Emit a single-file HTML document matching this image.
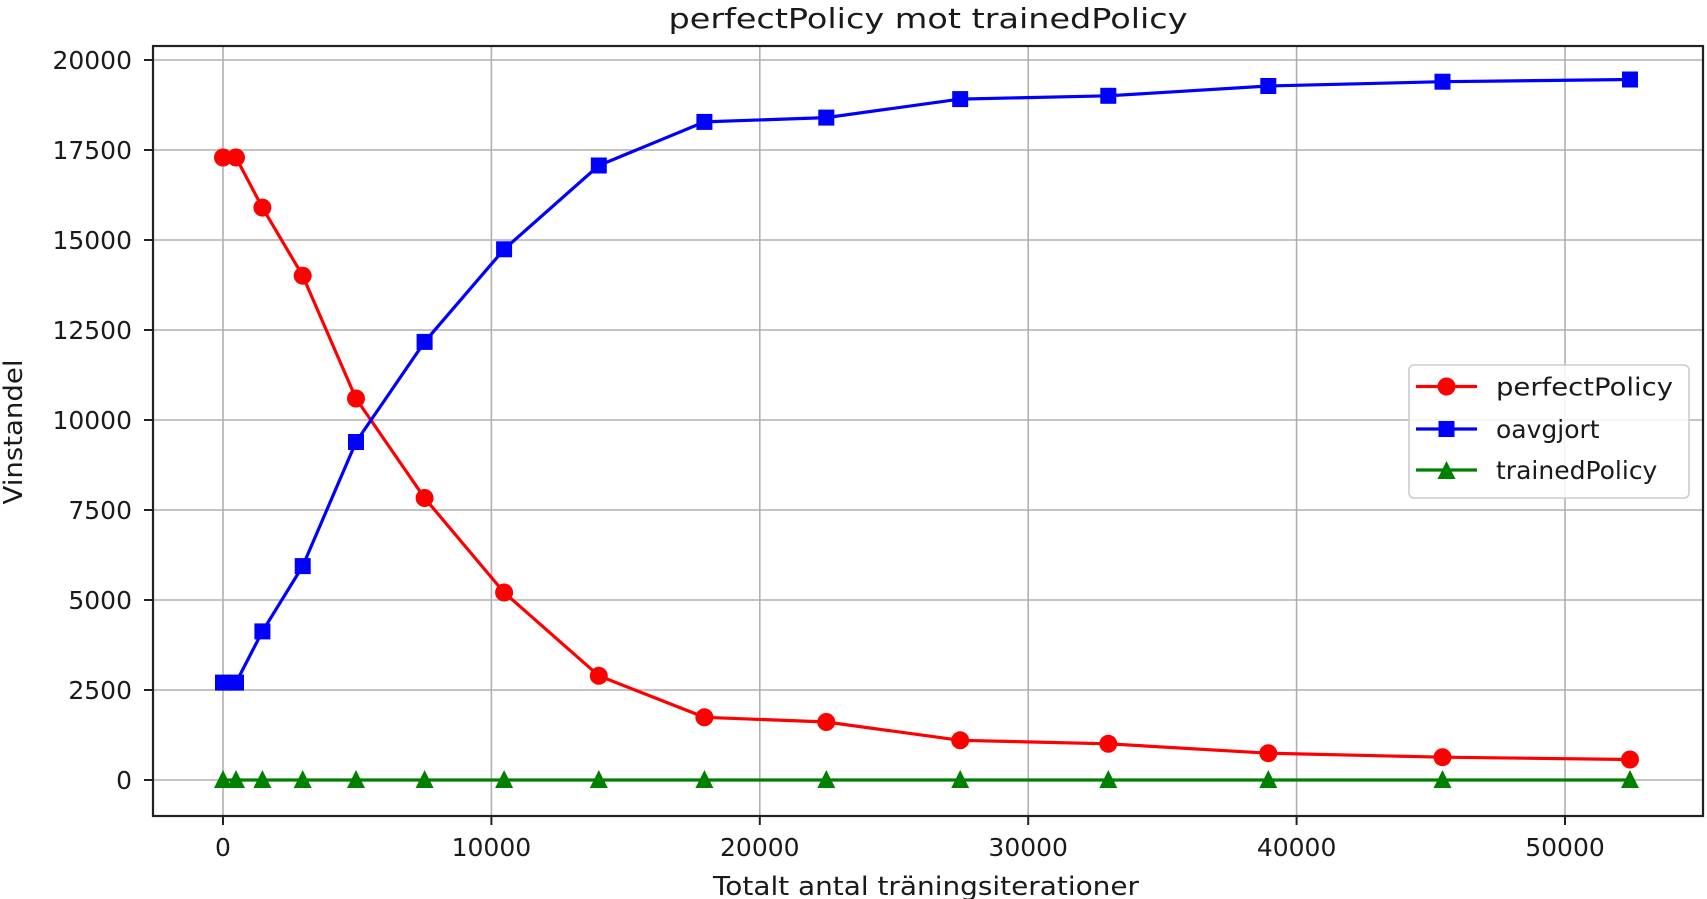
<!DOCTYPE html>
<html><head><meta charset="utf-8"><style>html,body{margin:0;padding:0;background:#fff}svg{display:block}text{font-family:"DejaVu Sans","Liberation Sans",sans-serif;fill:#1a1a1a}</style></head>
<body>
<svg width="1707" height="899" viewBox="0 0 1707 899" xmlns="http://www.w3.org/2000/svg">
<g stroke="#b0b0b0" stroke-width="1.6">
<line x1="223" y1="46" x2="223" y2="816"/><line x1="491.4" y1="46" x2="491.4" y2="816"/><line x1="759.8" y1="46" x2="759.8" y2="816"/><line x1="1028.2" y1="46" x2="1028.2" y2="816"/><line x1="1296.6" y1="46" x2="1296.6" y2="816"/><line x1="1565" y1="46" x2="1565" y2="816"/>
<line x1="153" y1="780" x2="1703" y2="780"/><line x1="153" y1="690" x2="1703" y2="690"/><line x1="153" y1="600" x2="1703" y2="600"/><line x1="153" y1="510" x2="1703" y2="510"/><line x1="153" y1="420" x2="1703" y2="420"/><line x1="153" y1="330" x2="1703" y2="330"/><line x1="153" y1="240" x2="1703" y2="240"/><line x1="153" y1="150" x2="1703" y2="150"/><line x1="153" y1="60" x2="1703" y2="60"/>
</g>
<polyline fill="none" stroke="#ff0000" stroke-width="3.2" points="223,157.5 236,157.5 262.4,207.6 302.7,275.7 356,398.5 424.6,498 504.1,592.5 598.8,675.8 704.4,717.3 826.3,722 960.2,740.3 1108.3,743.8 1268.3,753.2 1442.5,757.2 1630,759.5"/>
<g fill="#ff0000"><circle cx="223" cy="157.5" r="9"/><circle cx="236" cy="157.5" r="9"/><circle cx="262.4" cy="207.6" r="9"/><circle cx="302.7" cy="275.7" r="9"/><circle cx="356" cy="398.5" r="9"/><circle cx="424.6" cy="498" r="9"/><circle cx="504.1" cy="592.5" r="9"/><circle cx="598.8" cy="675.8" r="9"/><circle cx="704.4" cy="717.3" r="9"/><circle cx="826.3" cy="722" r="9"/><circle cx="960.2" cy="740.3" r="9"/><circle cx="1108.3" cy="743.8" r="9"/><circle cx="1268.3" cy="753.2" r="9"/><circle cx="1442.5" cy="757.2" r="9"/><circle cx="1630" cy="759.5" r="9"/></g>
<polyline fill="none" stroke="#0000ff" stroke-width="3.2" points="223,682.6 236,682.6 262.4,631.4 302.7,566.1 356,442 424.6,341.9 504.1,249.3 598.8,165.5 704.4,121.9 826.3,117.6 960.2,99.1 1108.3,95.8 1268.3,86 1442.5,81.7 1630,79.5"/>
<g fill="#0000ff"><rect x="215" y="674.6" width="16" height="16"/><rect x="228" y="674.6" width="16" height="16"/><rect x="254.4" y="623.4" width="16" height="16"/><rect x="294.7" y="558.1" width="16" height="16"/><rect x="348" y="434" width="16" height="16"/><rect x="416.6" y="333.9" width="16" height="16"/><rect x="496.1" y="241.3" width="16" height="16"/><rect x="590.8" y="157.5" width="16" height="16"/><rect x="696.4" y="113.9" width="16" height="16"/><rect x="818.3" y="109.6" width="16" height="16"/><rect x="952.2" y="91.1" width="16" height="16"/><rect x="1100.3" y="87.8" width="16" height="16"/><rect x="1260.3" y="78" width="16" height="16"/><rect x="1434.5" y="73.7" width="16" height="16"/><rect x="1622" y="71.5" width="16" height="16"/></g>
<line x1="223" y1="780" x2="1630" y2="780" stroke="#008000" stroke-width="3.2"/>
<g fill="#008000">
<polygon points="223,770 232,788 214,788"/><polygon points="236,770 245,788 227,788"/><polygon points="262.4,770 271.4,788 253.4,788"/><polygon points="302.7,770 311.7,788 293.7,788"/><polygon points="356,770 365,788 347,788"/><polygon points="424.6,770 433.6,788 415.6,788"/><polygon points="504.1,770 513.1,788 495.1,788"/><polygon points="598.8,770 607.8,788 589.8,788"/><polygon points="704.4,770 713.4,788 695.4,788"/><polygon points="826.3,770 835.3,788 817.3,788"/><polygon points="960.2,770 969.2,788 951.2,788"/><polygon points="1108.3,770 1117.3,788 1099.3,788"/><polygon points="1268.3,770 1277.3,788 1259.3,788"/><polygon points="1442.5,770 1451.5,788 1433.5,788"/><polygon points="1630,770 1639,788 1621,788"/>
</g>
<rect x="153" y="46" width="1550" height="770" fill="none" stroke="#222" stroke-width="2.2"/>
<g stroke="#222" stroke-width="2">
<line x1="223" y1="816" x2="223" y2="825"/><line x1="491.4" y1="816" x2="491.4" y2="825"/><line x1="759.8" y1="816" x2="759.8" y2="825"/><line x1="1028.2" y1="816" x2="1028.2" y2="825"/><line x1="1296.6" y1="816" x2="1296.6" y2="825"/><line x1="1565" y1="816" x2="1565" y2="825"/>
<line x1="144" y1="780" x2="153" y2="780"/><line x1="144" y1="690" x2="153" y2="690"/><line x1="144" y1="600" x2="153" y2="600"/><line x1="144" y1="510" x2="153" y2="510"/><line x1="144" y1="420" x2="153" y2="420"/><line x1="144" y1="330" x2="153" y2="330"/><line x1="144" y1="240" x2="153" y2="240"/><line x1="144" y1="150" x2="153" y2="150"/><line x1="144" y1="60" x2="153" y2="60"/>
</g>
<g font-size="25" text-anchor="middle">
<text x="223" y="856">0</text><text x="491.4" y="856">10000</text><text x="759.8" y="856">20000</text><text x="1028.2" y="856">30000</text><text x="1296.6" y="856">40000</text><text x="1565" y="856">50000</text>
</g>
<g font-size="25" text-anchor="end">
<text x="132" y="789">0</text><text x="132" y="699">2500</text><text x="132" y="609">5000</text><text x="132" y="519">7500</text><text x="132" y="429">10000</text><text x="132" y="339">12500</text><text x="132" y="249">15000</text><text x="132" y="159">17500</text><text x="132" y="69">20000</text>
</g>
<text x="928" y="28" font-size="28" text-anchor="middle" textLength="519" lengthAdjust="spacingAndGlyphs">perfectPolicy mot trainedPolicy</text>
<text x="926" y="895" font-size="26" text-anchor="middle" textLength="426" lengthAdjust="spacingAndGlyphs">Totalt antal träningsiterationer</text>
<text transform="translate(22,432) rotate(-90)" font-size="26" text-anchor="middle" textLength="145" lengthAdjust="spacingAndGlyphs">Vinstandel</text>
<rect x="1409" y="365" width="280" height="133" rx="5" fill="#fff" fill-opacity="0.85" stroke="#ccc" stroke-width="1.6"/>
<line x1="1416" y1="386.5" x2="1477" y2="386.5" stroke="#ff0000" stroke-width="3.2"/><circle cx="1446.5" cy="386.5" r="9" fill="#ff0000"/>
<line x1="1416" y1="429" x2="1477" y2="429" stroke="#0000ff" stroke-width="3.2"/><rect x="1438.5" y="421" width="16" height="16" fill="#0000ff"/>
<line x1="1416" y1="470" x2="1477" y2="470" stroke="#008000" stroke-width="3.2"/><polygon points="1446.5,461 1455.5,479 1437.5,479" fill="#008000"/>
<g font-size="25">
<text x="1496" y="395.5" textLength="177" lengthAdjust="spacingAndGlyphs">perfectPolicy</text>
<text x="1496" y="438">oavgjort</text>
<text x="1496" y="479">trainedPolicy</text>
</g>
</svg>
</body></html>
